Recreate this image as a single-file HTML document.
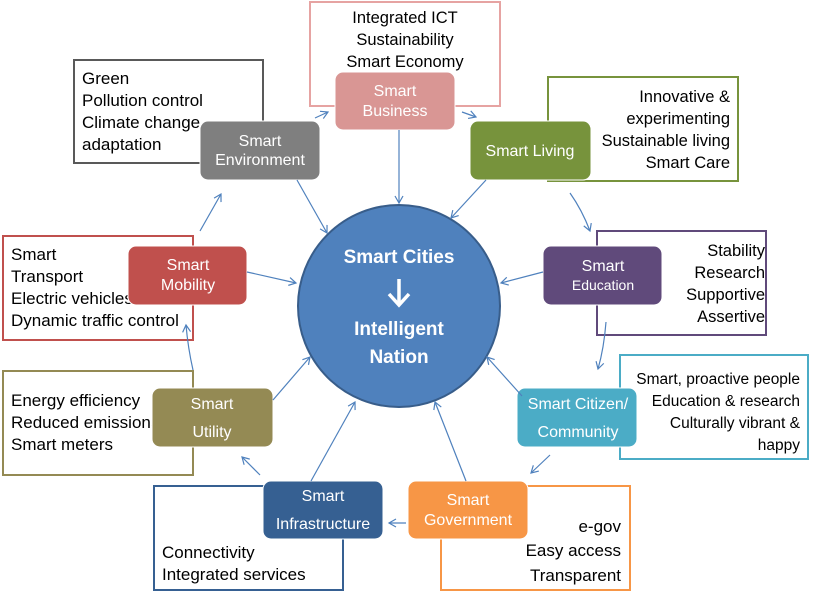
<!DOCTYPE html>
<html><head><meta charset="utf-8"><style>
html,body{margin:0;padding:0;background:#fff;}
svg{display:block;}
text{font-family:"Liberation Sans",sans-serif;}
.d{font-size:17px;fill:#000;}
.w{font-size:16px;fill:#fff;}
</style></head><body>
<svg width="816" height="599" viewBox="0 0 816 599" xmlns="http://www.w3.org/2000/svg">
<defs>
<marker id="a" markerWidth="10" markerHeight="10" refX="8" refY="5" orient="auto" markerUnits="userSpaceOnUse">
<path d="M1,1 L8,5 L1,9" fill="none" stroke="#4f81bd" stroke-width="1.2"/>
</marker>
</defs>
<g fill="#fff" stroke-width="2">
<rect x="74" y="60" width="189" height="103" stroke="#595959"/>
<rect x="310" y="2" width="190" height="104" stroke="#e6a3a2"/>
<rect x="548" y="77" width="190" height="104" stroke="#77933c"/>
<rect x="597" y="231" width="169" height="104" stroke="#604a7b"/>
<rect x="620" y="355" width="188" height="104" stroke="#4bacc6"/>
<rect x="441" y="486" width="189" height="104" stroke="#f79646"/>
<rect x="154" y="486" width="189" height="104" stroke="#366092"/>
<rect x="3" y="371" width="190" height="104" stroke="#948a54"/>
<rect x="3" y="236" width="190" height="104" stroke="#c0504d"/>
</g>
<g class="d">
<text x="82" y="84">Green</text>
<text x="82" y="106">Pollution control</text>
<text x="82" y="128">Climate change</text>
<text x="82" y="150">adaptation</text>
<g text-anchor="middle" style="font-size:16.5px"><text x="405" y="23">Integrated ICT</text><text x="405" y="45">Sustainability</text><text x="405" y="67">Smart Economy</text></g>
<g text-anchor="end" style="font-size:16.5px"><text x="730" y="102">Innovative &amp;</text><text x="730" y="124">experimenting</text><text x="730" y="146">Sustainable living</text><text x="730" y="168">Smart Care</text></g>
<g text-anchor="end" style="font-size:16.5px"><text x="765" y="256">Stability</text><text x="765" y="278">Research</text><text x="765" y="300">Supportive</text><text x="765" y="322">Assertive</text></g>
<g text-anchor="end" style="font-size:15.5px"><text x="800" y="384">Smart, proactive people</text><text x="800" y="406">Education &amp; research</text><text x="800" y="428">Culturally vibrant &amp;</text><text x="800" y="450">happy</text></g>
<g text-anchor="end" style="font-size:17px"><text x="621" y="532">e-gov</text><text x="621" y="556">Easy access</text><text x="621" y="581">Transparent</text></g>
<text x="162" y="558">Connectivity</text><text x="162" y="580">Integrated services</text>
<text x="11" y="406">Energy efficiency</text><text x="11" y="428">Reduced emissions</text><text x="11" y="450">Smart meters</text>
<text x="11" y="260">Smart</text><text x="11" y="282">Transport</text><text x="11" y="304">Electric vehicles</text><text x="11" y="326">Dynamic traffic control</text>
</g>
<g stroke="#fff" stroke-width="1">
<rect x="335" y="72" width="120" height="58" rx="8" fill="#d99694"/>
<rect x="200" y="121" width="120" height="59" rx="8" fill="#7f7f7f"/>
<rect x="470" y="121" width="121" height="59" rx="8" fill="#77933c"/>
<rect x="128" y="246" width="119" height="59" rx="8" fill="#c0504d"/>
<rect x="543" y="246" width="119" height="59" rx="8" fill="#604a7b"/>
<rect x="152" y="388" width="121" height="59" rx="8" fill="#948a54"/>
<rect x="517" y="388" width="120" height="59" rx="8" fill="#4bacc6"/>
<rect x="263" y="481" width="120" height="58" rx="8" fill="#366092"/>
<rect x="408" y="481" width="120" height="58" rx="8" fill="#f79646"/>
</g>
<g class="w" text-anchor="middle">
<text x="395" y="96">Smart</text><text x="395" y="116">Business</text>
<text x="260" y="146">Smart</text><text x="260" y="165">Environment</text>
<text x="530" y="156">Smart Living</text>
<text x="188" y="270">Smart</text><text x="188" y="290">Mobility</text>
<text x="603" y="271">Smart</text><text x="603" y="290" style="font-size:14px">Education</text>
<text x="212" y="409">Smart</text><text x="212" y="437">Utility</text>
<text x="578" y="409">Smart Citizen/</text><text x="578" y="437">Community</text>
<text x="323" y="501">Smart</text><text x="323" y="529">Infrastructure</text>
<text x="468" y="505">Smart</text><text x="468" y="525">Government</text>
</g>
<circle cx="399" cy="306" r="101" fill="#4f81bd" stroke="#385d8a" stroke-width="2"/>
<g fill="#fff" font-weight="bold" text-anchor="middle" style="font-size:19px">
<text x="399" y="263">Smart Cities</text>
<text x="399" y="335">Intelligent</text>
<text x="399" y="363">Nation</text>
</g>
<path d="M399,279 L399,304 M389,294 L399,305 L409,294" stroke="#fff" stroke-width="3.5" fill="none"/>
<g stroke="#4f81bd" stroke-width="1.2" fill="none" marker-end="url(#a)">
<line x1="399" y1="130" x2="399" y2="203"/>
<line x1="297" y1="180" x2="327" y2="233"/>
<line x1="486" y1="180" x2="451" y2="218"/>
<line x1="247" y1="272" x2="296" y2="283"/>
<line x1="543" y1="272" x2="501" y2="283"/>
<line x1="522" y1="396" x2="487" y2="357"/>
<line x1="466" y1="481" x2="435" y2="402"/>
<line x1="311" y1="481" x2="355" y2="402"/>
<line x1="273" y1="400" x2="310" y2="357"/>
<line x1="315" y1="118" x2="328" y2="112"/>
<line x1="462" y1="112" x2="476" y2="117"/>
<path d="M570,193 Q582,210 590,231"/>
<path d="M606,322 Q604,348 598,369"/>
<line x1="550" y1="455" x2="531" y2="473"/>
<line x1="406" y1="523" x2="389" y2="523"/>
<line x1="260" y1="475" x2="242" y2="457"/>
<path d="M193,370 Q188,348 186,325"/>
<line x1="200" y1="231" x2="221" y2="194"/>
</g>
</svg>
</body></html>
